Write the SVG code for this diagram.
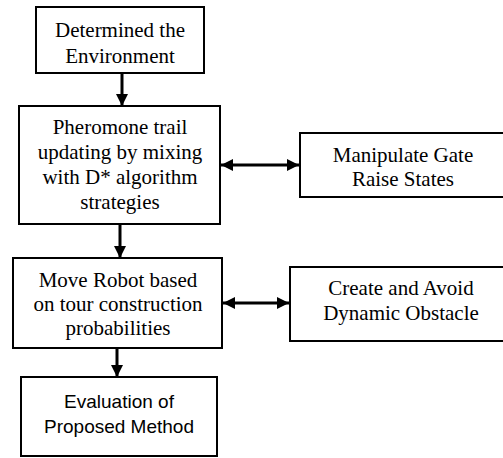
<svg xmlns="http://www.w3.org/2000/svg" width="503" height="458" viewBox="0 0 503 458">
  <style>
    .box { fill: #ffffff; stroke: #000000; stroke-width: 2; }
    .serif { font-family: 'Liberation Serif', serif; font-size: 21px; fill: #000000; text-anchor: middle; }
    .sans { font-family: 'Liberation Sans', sans-serif; font-size: 19px; fill: #000000; text-anchor: middle; }
    .link { stroke: #000000; stroke-width: 3; fill: none; }
  </style>
  <defs>
    <marker id="head" markerUnits="userSpaceOnUse" markerWidth="12" markerHeight="12" viewBox="0 0 12 12" refX="12" refY="6" orient="auto-start-reverse">
      <path d="M0,0 L12,6 L0,12 z" fill="#000000"/>
    </marker>
  </defs>
  <rect width="503" height="458" fill="#ffffff"/>

  <g id="connectors">
    <line class="link" x1="122" y1="73" x2="122" y2="106" marker-end="url(#head)"/>
    <line class="link" x1="120" y1="224" x2="120" y2="258" marker-end="url(#head)"/>
    <line class="link" x1="117" y1="348" x2="117" y2="377" marker-end="url(#head)"/>
    <line class="link" x1="221" y1="165" x2="299" y2="165" marker-start="url(#head)" marker-end="url(#head)"/>
    <line class="link" x1="223" y1="303" x2="289" y2="303" marker-start="url(#head)" marker-end="url(#head)"/>
  </g>

  <g id="environment">
    <rect class="box" x="36" y="7" width="168" height="66"/>
    <text class="serif" x="120" y="37">Determined the</text>
    <text class="serif" x="120" y="63">Environment</text>
  </g>

  <g id="pheromone">
    <rect class="box" x="19" y="106" width="201" height="118"/>
    <text class="serif" x="120" y="134">Pheromone trail</text>
    <text class="serif" x="120" y="159">updating by mixing</text>
    <text class="serif" x="120" y="184">with D* algorithm</text>
    <text class="serif" x="120" y="209">strategies</text>
  </g>

  <g id="gate">
    <rect class="box" x="300" y="133" width="212" height="64"/>
    <text class="serif" x="403" y="162">Manipulate Gate</text>
    <text class="serif" x="403" y="186">Raise States</text>
  </g>

  <g id="robot">
    <rect class="box" x="13" y="258" width="209" height="90"/>
    <text class="serif" x="118" y="287">Move Robot based</text>
    <text class="serif" x="118" y="311">on tour construction</text>
    <text class="serif" x="118" y="335">probabilities</text>
  </g>

  <g id="obstacle">
    <rect class="box" x="290" y="267" width="222" height="74"/>
    <text class="serif" x="401" y="295">Create and Avoid</text>
    <text class="serif" x="401" y="320">Dynamic Obstacle</text>
  </g>

  <g id="evaluation">
    <rect class="box" x="21" y="377" width="196" height="79"/>
    <text class="sans" x="119" y="408">Evaluation of</text>
    <text class="sans" x="119" y="433">Proposed Method</text>
  </g>
</svg>
